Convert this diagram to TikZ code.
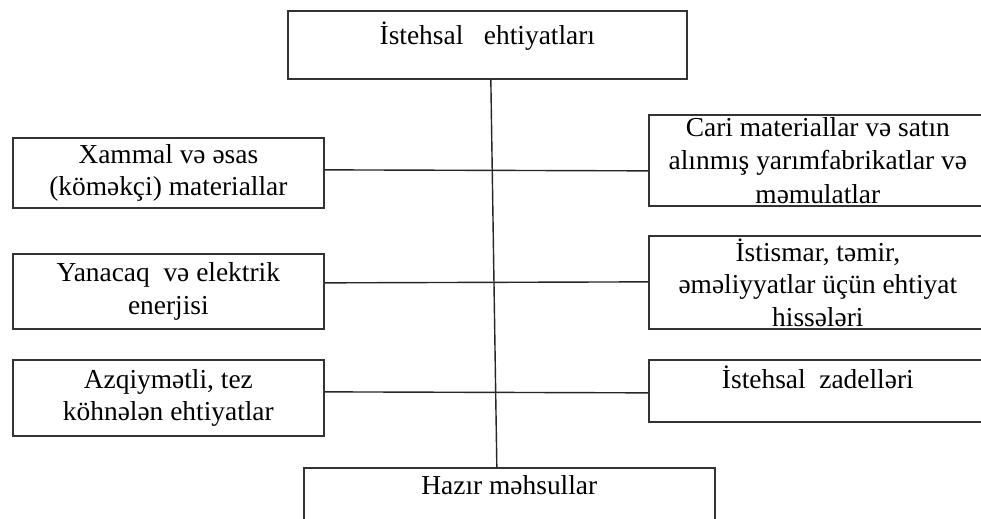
\documentclass[tikz,border=0pt]{standalone}
\usepackage{fontspec}
\setmainfont{Liberation Serif}
\usetikzlibrary{calc}
\tikzset{
  box/.style={draw=black!80,line width=1pt,anchor=north west,inner sep=0pt,align=center,
    font=\fontsize{15.6}{17}\selectfont},
  lbl/.style={anchor=north,inner sep=0pt,font=\fontsize{15.6}{17}\selectfont},
  link/.style={draw=black!85,line width=.8pt}
}
\begin{document}
\begin{tikzpicture}[x=.02cm,y=.02cm]
  \useasboundingbox (0,0) rectangle (981,-519);
  \clip (0,0) rectangle (981,-519);
  % boxes
  \node[box,minimum width=7.98cm,minimum height=1.36cm,
    label={[lbl,yshift=-6.5pt]north:İstehsal~~~ehtiyatları}] (top) at (287,-10) {};
  \node[box,minimum width=6.22cm,minimum height=1.40cm] (l1) at (12,-137) {Xammal və əsas\\[1.5pt](köməkçi) materiallar};
  \node[box,minimum width=6.22cm,minimum height=1.50cm] (l2) at (12,-253) {Yanacaq~~və elektrik\\[1.5pt]enerjisi};
  \node[box,minimum width=6.22cm,minimum height=1.52cm] (l3) at (12,-359) {Azqiymətli, tez\\[1.5pt]köhnələn ehtiyatlar};
  \node[box,minimum width=6.76cm,minimum height=1.82cm] (r1) at (648,-114) {Cari materiallar və satın\\[2pt]alınmış yarımfabrikatlar və\\[2pt]məmulatlar};
  \node[box,minimum width=6.76cm,minimum height=1.86cm] (r2) at (648,-235) {İstismar, təmir,\\[1.5pt]əməliyyatlar üçün ehtiyat\\[1.5pt]hissələri};
  \node[box,minimum width=6.76cm,minimum height=1.24cm,
    label={[lbl,yshift=-4pt]north:İstehsal~~zadelləri}] (r3) at (648,-359) {};
  \node[box,minimum width=8.22cm,minimum height=1.36cm,
    label={[lbl,yshift=-4.5pt]north:Hazır məhsullar}] (bot) at (303,-467) {};
  % connectors
  \draw[link] ($(top.south)+(3.5,0)$) -- ($(bot.north)+(-12.5,0)$);
  \foreach \i/\a/\b in {1/3/-10.5,2/8.5/.5,3/6/-2}
    \draw[link] ($(l\i.east)+(0,\a)$) -- ($(r\i.west)+(0,\b)$);
\end{tikzpicture}
\end{document}
